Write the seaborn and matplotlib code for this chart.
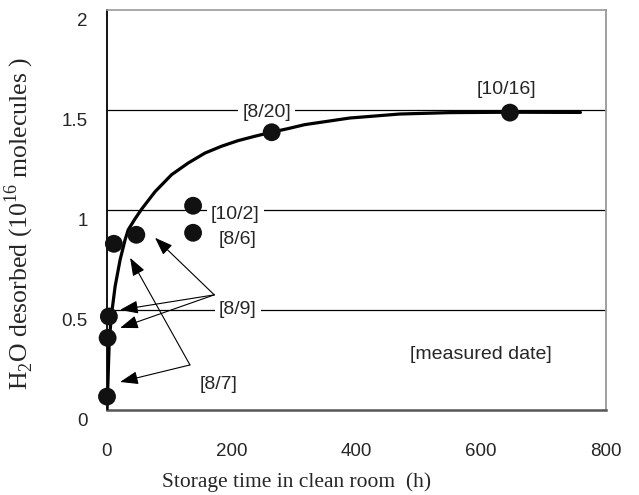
import matplotlib
matplotlib.use("Agg")
import matplotlib.pyplot as plt
import matplotlib.transforms as mtransforms
import pandas as pd
import seaborn as sns

# measured points: storage time (h) vs H2O desorbed (1e16 molecules)
hours = [0, 1, 3, 11, 47, 138, 138, 264, 646]
desorbed = [0.067, 0.36, 0.467, 0.83, 0.875, 1.02, 0.885, 1.387, 1.485]

# fitted curve
curve_hours = [0, 0.5, 2, 3.7, 7.5, 13, 21, 29, 34, 45, 55.5, 77, 103.5, 130, 157,
               183.5, 210, 237, 263.5, 290, 317, 389, 469, 549, 645, 759]
curve_desorbed = [0.0, 0.035, 0.185, 0.35, 0.483, 0.617, 0.75, 0.85, 0.90, 0.955,
                  1.003, 1.09, 1.175, 1.233, 1.283, 1.317, 1.345, 1.367, 1.387,
                  1.405, 1.425, 1.458, 1.478, 1.485, 1.487, 1.486]

# measured-date labels
dates = ["[8/20]", "[10/16]", "[10/2]", "[8/6]", "[8/9]", "[8/7]"]
date_x = [256, 640, 206, 210, 210, 179]
date_y = [1.485, 1.6, 0.975, 0.85, 0.5, 0.125]

# arrows: label origin -> target
arrow_from = [(172, 0.575), (172, 0.575), (172, 0.575), (133, 0.225), (133, 0.225)]
arrow_to = [(77, 0.86), (21, 0.5), (21, 0.41), (37, 0.76), (21, 0.14)]

x_ticks = [0, 200, 400, 600, 800]
y_ticks = [0, 0.5, 1, 1.5, 2]
y_ticklabels = ["0", "0.5", "1", "1.5", "2"]

sns.set_style("white")
plt.rcParams["font.family"] = ["Liberation Sans", "DejaVu Sans"]
plt.rcParams["mathtext.fontset"] = "custom"
plt.rcParams["mathtext.rm"] = "Liberation Serif"

fig = plt.figure(figsize=(6.39, 4.95), dpi=100)
ax = fig.add_axes([107 / 639, 1 - 410 / 495, 499 / 639, 400.5 / 495])

curve = pd.DataFrame({"h": curve_hours, "y": curve_desorbed})
pts = pd.DataFrame({"h": hours, "y": desorbed})

sns.lineplot(data=curve, x="h", y="y", ax=ax, color="black", lw=2.3,
             sort=False, estimator=None, zorder=3)
sns.scatterplot(data=pts, x="h", y="y", ax=ax, color="#111111", s=165,
                edgecolor="none", zorder=5, clip_on=False)

ax.set_xlim(0, 800)
ax.set_ylim(0, 2)
ax.set_xticks(x_ticks)
ax.set_yticks(y_ticks)
ax.set_yticklabels(y_ticklabels)
for y in y_ticks[1:-1]:
    ax.axhline(y, color="black", lw=0.9, zorder=1)

ax.tick_params(axis="x", direction="in", length=5, width=1, color="#444444",
               pad=24, labelsize=13.5)
ax.tick_params(axis="y", length=0, pad=14, labelsize=13.5)
offset = mtransforms.ScaledTranslation(0, -0.1, fig.dpi_scale_trans)
for lab in ax.get_yticklabels():
    lab.set_transform(lab.get_transform() + offset)

for side, c, w in [("left", "black", 1.3), ("bottom", "#555555", 1.8),
                   ("top", "#999999", 1.2), ("right", "#999999", 1.3)]:
    ax.spines[side].set_visible(True)
    ax.spines[side].set_color(c)
    ax.spines[side].set_linewidth(w)

for txt, x, y in zip(dates, date_x, date_y):
    ax.text(x, y, txt, fontsize=14, ha="center", va="center", zorder=4,
            bbox=dict(facecolor="white", edgecolor="none", pad=3))
ax.text(600, 0.275, "[measured date]", fontsize=14, ha="center", va="center")

for (x0, y0), (x1, y1) in zip(arrow_from, arrow_to):
    ax.annotate("", xy=(x1, y1), xytext=(x0, y0),
                arrowprops=dict(arrowstyle="-|>,head_length=0.55,head_width=0.2",
                                color="black", lw=0.8, mutation_scale=20,
                                shrinkA=0, shrinkB=0),
                zorder=6)

ax.set_xlabel("Storage time in clean room  (h)", family="Liberation Serif", fontsize=15.5)
ax.set_ylabel(r"H$_2$O desorbed (10$^{16}$ molecules )", family="Liberation Serif", fontsize=18.5)
ax.xaxis.set_label_coords(0.38, -0.155)
ax.yaxis.set_label_coords(-0.142, 0.465)

fig.savefig("out.png", dpi=100)
